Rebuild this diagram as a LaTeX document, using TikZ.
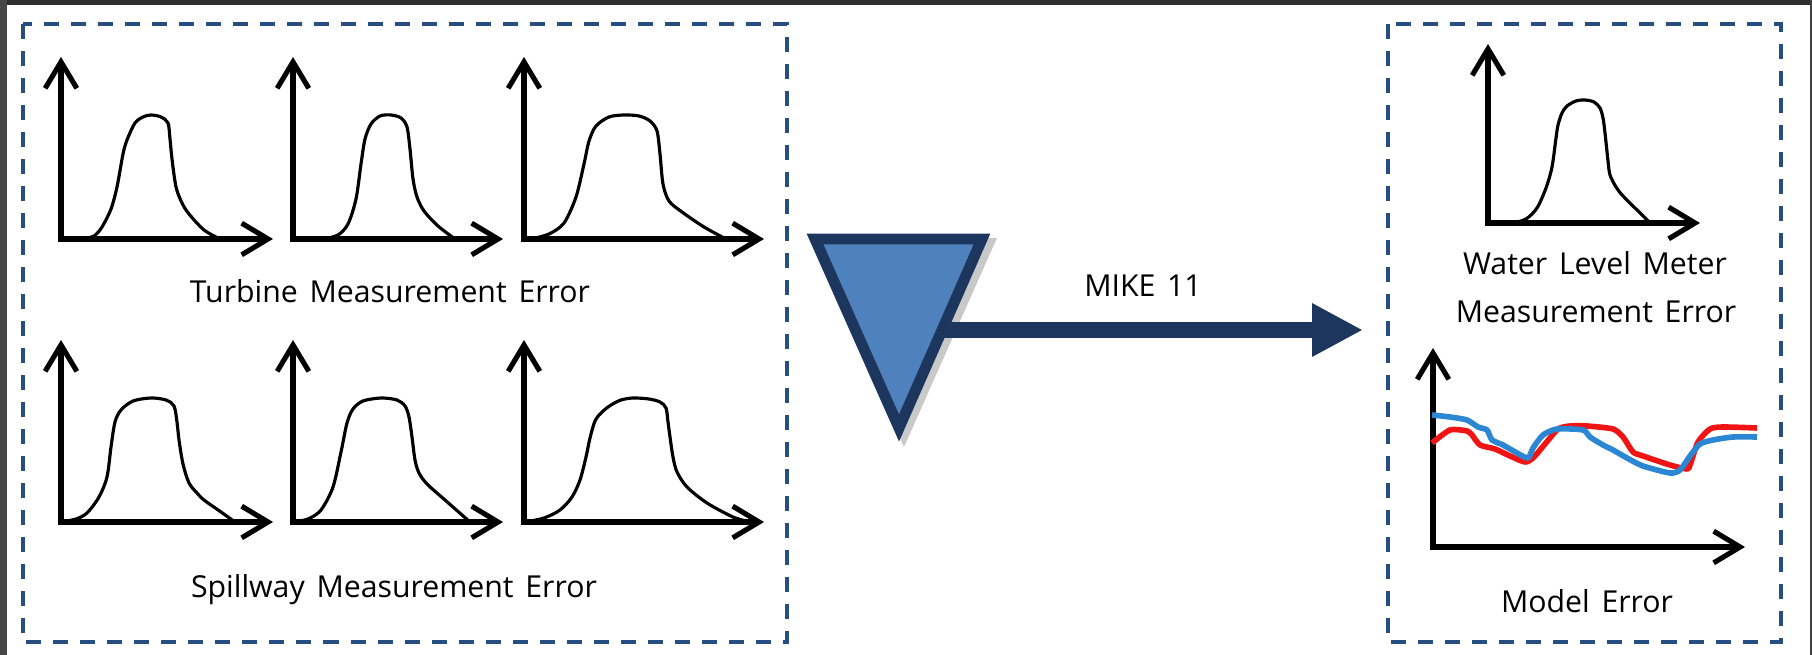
\documentclass[tikz,border=0pt]{standalone}
\usepackage{fontspec}
\setmainfont{Open Sans}[WordSpace=1.5]
\usepackage{xcolor}
\usetikzlibrary{arrows.meta}

\definecolor{boxblue}{RGB}{38,78,130}
\definecolor{trifill}{RGB}{79,129,189}
\definecolor{navy}{RGB}{28,54,93}
\definecolor{errred}{RGB}{240,20,20}
\definecolor{errblue}{RGB}{43,135,211}

\begin{document}
\begin{tikzpicture}[x=0.01cm, y=-0.01cm,
    box/.style={draw=boxblue, line width=0.95pt, dash pattern=on 0.15cm off 0.12cm},
    axis/.style={line width=1.45pt, {Straight Barb[length=7.5pt,width=9pt]}-{Straight Barb[length=7.5pt,width=9pt]}},
    bell/.style={line width=0.9pt, smooth, tension=0.5},
    series/.style={line width=1.6pt, line join=round, smooth, tension=0.4},
    lbl/.style={font=\fontsize{8.6pt}{10pt}\selectfont, anchor=base, inner sep=0pt}]

    \useasboundingbox (0,0) rectangle (1812,655);

    % Frame of the screenshot
    \fill[black!82] (0,0) rectangle (1812,5);
    \fill[black!72] (0,0) rectangle (7,655);
    \fill[black!75] (1810,0) rectangle (1812,655);

    % Dashed boxes
    \draw[box] (23,24) rectangle (787,642);
    \draw[box] (1388,24) rectangle (1781,642);

    % Axes of the six input distributions
    \foreach \ox/\tx in {61/273, 293/503, 524/764} {
        \draw[axis] (\ox,57) -- (\ox,239) -- (\tx,239);
        \draw[axis] (\ox,340) -- (\ox,522) -- (\tx,522);
    }

    % Turbine curves
    \begin{scope}[shift={(61,239)}]
        \draw[bell] plot coordinates {(21,0) (33,-3) (41,-12) (50,-30) (56,-52) (62,-85) (66,-99) (74,-116) (82,-122) (90,-124) (100,-122) (107,-116) (109,-100) (111,-80) (115,-52) (121,-36) (128,-25) (143,-9) (159,0)};
    \end{scope}
    \begin{scope}[shift={(293,239)}]
        \draw[bell] plot coordinates {(31,0) (45,-4) (55,-15) (63,-40) (68,-75) (72,-100) (78,-115) (87,-123) (98,-124) (108,-121) (114,-112) (117,-90) (120,-60) (124,-42) (131,-28) (145,-13) (162,0)};
    \end{scope}
    \begin{scope}[shift={(524,239)}]
        \draw[bell] plot coordinates {(7,0) (25,-5) (40,-16) (52,-42) (60,-75) (65,-98) (72,-113) (85,-122) (100,-124) (115,-123) (126,-118) (133,-108) (136,-85) (139,-55) (145,-38) (158,-27) (180,-12) (202,0)};
    \end{scope}

    % Spillway curves
    \begin{scope}[shift={(61,522)}]
        \draw[bell] plot coordinates {(0,0) (15,-3) (26,-9) (38,-25) (46,-45) (50,-75) (54,-100) (60,-112) (72,-121) (90,-124) (105,-122) (113,-116) (116,-100) (118,-82) (122,-58) (128,-39) (136,-29) (143,-22) (160,-10) (174,0)};
    \end{scope}
    \begin{scope}[shift={(293,522)}]
        \draw[bell] plot coordinates {(0,0) (15,-3) (28,-12) (40,-35) (48,-70) (54,-99) (60,-113) (70,-121) (88,-124) (104,-122) (112,-116) (116,-105) (119,-85) (122,-62) (126,-49) (134,-38) (152,-22) (177,0)};
    \end{scope}
    \begin{scope}[shift={(524,522)}]
        \draw[bell] plot coordinates {(1,0) (20,-4) (36,-12) (48,-25) (56,-42) (62,-65) (66,-84) (71,-101) (78,-110) (87,-117) (97,-122) (109,-124) (125,-123) (136,-120) (142,-114) (144,-100) (146,-85) (149,-65) (153,-50) (163,-35) (183,-19) (209,-5) (226,0)};
    \end{scope}

    \node[lbl] (turbine) at (390,303) {Turbine Measurement Error};
    \node[lbl] (spillway) at (394,597) {Spillway Measurement Error};

    % Model (triangle) and output arrow
    \coordinate (tri-nw) at (815,239);
    \coordinate (tri-ne) at (982,239);
    \coordinate (tri-s) at (899,428);
    \coordinate (tri-e) at (942,330);
    \coordinate (out-w) at (1363,330);
    \fill[black!30, opacity=0.7] (811,238) -- (997,238) -- (904,447) -- cycle;
    \draw[navy, fill=trifill, line width=3.1pt, line join=miter] (tri-nw) -- (tri-ne) -- (tri-s) -- cycle;
    \draw[navy, line width=4.5pt, -{Triangle[length=14.5pt,width=14.2pt]}] (tri-e) -- (out-w);
    \node[lbl] (mike) at (1143,297) {MIKE 11};

    % Water level meter
    \draw[axis] (1488,44) -- (1488,223) -- (1700,223);
    \begin{scope}[shift={(1488,223)}]
        \draw[bell] plot coordinates {(25,0) (38,-4) (49,-15) (58,-35) (64,-56) (68,-85) (70,-98) (74,-110) (79,-117) (88,-122) (97,-123) (106,-121) (112,-115) (115,-105) (117,-90) (120,-62) (122,-48) (128,-36) (135,-27) (150,-12) (162,0)};
    \end{scope}
    \node[lbl] (wlm-a) at (1595,275) {Water Level Meter};
    \node[lbl] (wlm-b) at (1596,323) {Measurement Error};

    % Model error
    \draw[axis] (1433,348) -- (1433,547) -- (1745,547);
    \draw[series, errred] plot coordinates {(1432,443) (1450,430) (1467,431) (1472,435) (1480,445) (1495,449) (1510,456) (1525,462) (1533,458) (1545,444) (1558,429) (1570,426) (1587,426) (1613,429) (1623,437) (1633,452) (1643,456) (1670,465) (1687,469) (1690,465) (1698,442) (1710,429) (1723,427) (1757,428)};
    \draw[series, errblue] plot coordinates {(1432,415) (1450,417) (1467,420) (1478,427) (1487,430) (1492,440) (1503,445) (1517,453) (1528,458) (1533,448) (1543,435) (1557,429) (1583,430) (1590,437) (1603,445) (1613,450) (1627,458) (1643,466) (1670,473) (1680,470) (1690,456) (1700,444) (1713,440) (1733,437) (1757,437)};
    \node[lbl] (model) at (1587,612) {Model Error};
\end{tikzpicture}
\end{document}
